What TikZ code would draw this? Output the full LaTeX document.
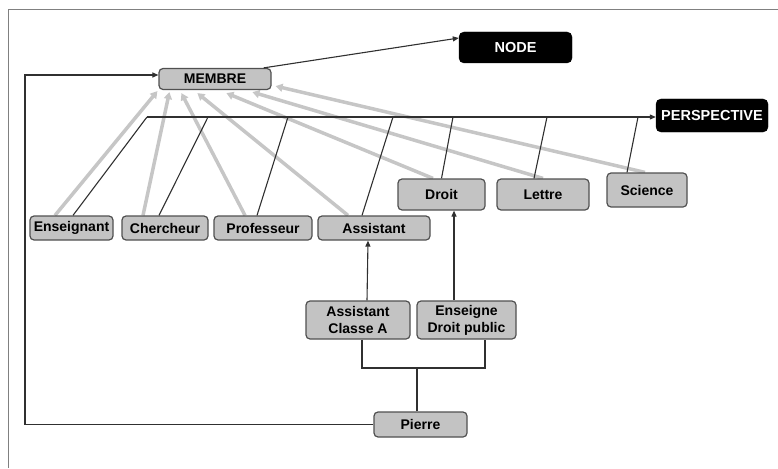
\documentclass[tikz,border=0pt]{standalone}
\usepackage{fontspec}
\setmainfont{Liberation Sans}
\usetikzlibrary{arrows.meta,calc,backgrounds}
\definecolor{boxfill}{HTML}{C3C3C3}
\definecolor{boxline}{HTML}{505050}
\definecolor{lineclr}{HTML}{303030}
\definecolor{grayarr}{HTML}{C6C6C6}
\definecolor{frameclr}{HTML}{808080}
\tikzset{
  gbox/.style={draw=boxline, fill=boxfill, line width=1.2pt, rounded corners=4pt,
    inner sep=0pt, align=center, font=\fontsize{14}{17}\selectfont\bfseries},
  bbox/.style={draw=black, fill=black, text=white, rounded corners=5pt,
    inner sep=0pt, font=\fontsize{14.5}{16}\selectfont\bfseries},
  conn/.style={draw=lineclr, line width=1.1pt},
  carr/.style={conn, -{Triangle[length=6pt,width=5pt]}},
  garr/.style={draw=grayarr, line width=3.5pt, -{Triangle[length=7pt,width=8pt]}},
}
\begin{document}
\begin{tikzpicture}[x=1pt,y=-1pt]
\useasboundingbox (0,0) rectangle (778,468);
\draw[frameclr, line width=1pt] (8,468) -- (8,10) -- (778,10);

% nodes
\node[gbox, minimum width=112pt, minimum height=21pt] (MEMBRE) at (215,79) {MEMBRE};
\node[bbox, minimum width=113pt, minimum height=31pt] (NODE) at (515.5,47.5) {NODE};
\node[bbox, minimum width=112pt, minimum height=33pt] (PERSP) at (712,115.5) {PERSPECTIVE};
\node[gbox, minimum width=83pt, minimum height=24pt] (Ens) at (71.5,228) {Enseignant};
\node[gbox, minimum width=86pt, minimum height=24pt] (Cher) at (165,228) {Chercheur};
\node[gbox, minimum width=98pt, minimum height=24pt] (Prof) at (263,228) {Professeur};
\node[gbox, minimum width=112pt, minimum height=24pt] (Assi) at (374,228) {Assistant};
\node[gbox, minimum width=87pt, minimum height=31pt] (Droit) at (441.5,194.5) {Droit};
\node[gbox, minimum width=92pt, minimum height=31pt] (Lettre) at (543,194.5) {Lettre};
\node[gbox, minimum width=80pt, minimum height=34pt] (Science) at (647,190) {Science};
\node[gbox, minimum width=104pt, minimum height=38pt] (ACA) at (358,320) {Assistant\\Classe A};
\node[gbox, minimum width=99pt, minimum height=38pt] (EDP) at (466.5,320) {Enseigne\\Droit public};
\node[gbox, minimum width=93pt, minimum height=25pt] (Pierre) at (420.5,424.5) {Pierre};

% coordinates
\coordinate (H) at (147,117);
\coordinate (h2) at (208,117);
\coordinate (h3) at (288,117);
\coordinate (h4) at (393,117);
\coordinate (h5) at (453,117);
\coordinate (h6) at (547,117);
\coordinate (h7) at (638,117);
\coordinate (L1) at (25,75);
\coordinate (J) at (417,368);

% gray arrows to MEMBRE
\begin{scope}[on background layer]
\draw[garr] ([xshift=-16.5pt]Ens.north) -- ($(MEMBRE.south west)+(-1,1)$);
\draw[garr] ([xshift=-22pt]Cher.north) -- ($(MEMBRE.south west)+(11,2)$);
\draw[garr] ([xshift=-18pt]Prof.north) -- ($(MEMBRE.south west)+(23,3)$);
\draw[garr] ([xshift=-26pt]Assi.north) -- ($(MEMBRE.south west)+(39,3)$);
\draw[garr] ([xshift=-8.5pt]Droit.north) -- ($(MEMBRE.south west)+(68,3)$);
\draw[garr] (Lettre.north) -- ($(MEMBRE.south west)+(94,2)$);
\draw[garr] ([xshift=-2pt]Science.north) -- ($(MEMBRE.south east)+(4,-4)$);
\end{scope}

% black perspective links
\draw[carr] (H) -- (H -| PERSP.west);
\draw[conn] ([xshift=1.5pt]Ens.north) -- (H);
\draw[conn] ([xshift=-6pt]Cher.north) -- (h2);
\draw[conn] ([xshift=-6pt]Prof.north) -- (h3);
\draw[conn] ([xshift=-12pt]Assi.north) -- (h4);
\draw[conn] (Droit.north) -- (h5);
\draw[conn] ([xshift=-9pt]Lettre.north) -- (h6);
\draw[conn] ([xshift=-20pt]Science.north) -- (h7);

% MEMBRE -> NODE
\draw[carr] ([xshift=-8pt]MEMBRE.north east) -- ([yshift=9.5pt]NODE.west);

% lower links
\draw[carr] ([xshift=9pt]ACA.north) -- ([xshift=-6pt]Assi.south);
\draw[carr] ([xshift=-12.5pt]EDP.north) -- ([xshift=12.5pt]Droit.south);
\draw[conn] ([xshift=4pt]ACA.south) |- (J) -| ([xshift=18.5pt]EDP.south);
\draw[conn] ([xshift=-3.5pt]Pierre.north) -- (J);
\draw[carr] (Pierre.west) -| (L1) -- ([yshift=4pt]MEMBRE.west);
\end{tikzpicture}
\end{document}
